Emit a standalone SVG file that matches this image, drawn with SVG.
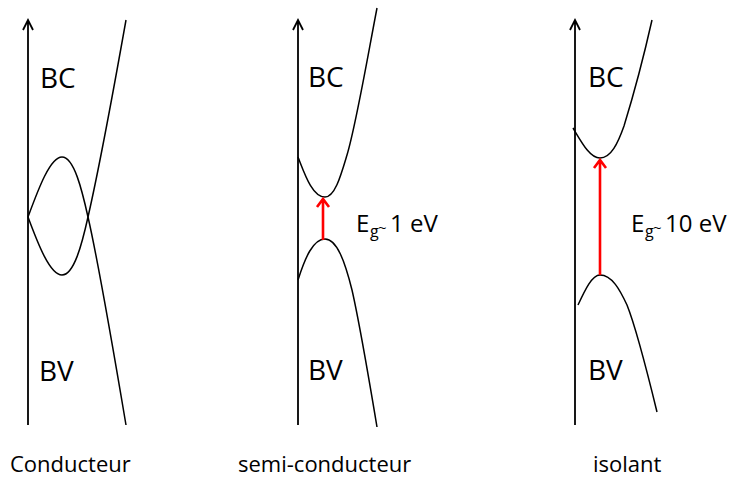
<svg xmlns="http://www.w3.org/2000/svg" width="731" height="477" viewBox="0 0 731 477">
<style>
.axis{stroke:#000;stroke-width:1.8;fill:none}
.band{stroke:#000;stroke-width:1.5;fill:none}
.gap{stroke:#ff0000;stroke-width:2.6;fill:none}
.lbl{font-family:"Open Sans","Liberation Sans",sans-serif;fill:#000}
.big{font-size:28px}
.cap{font-size:22px}
.eg{font-size:24px}
.sub{font-size:16px}
.tl{font-size:15px}
</style>
<rect width="731" height="477" fill="#fff"/>
<g id="conducteur">
  <path class="axis" d="M28,425 V20 M23,30 L28,20 L33,30"/>
  <path class="band" d="M28,217 C38,190 50,157 62,157 S82,190 88,217 C96,252 110,330 126,425"/>
  <path class="band" d="M28,217 C38,244 50,275 62,275 S82,244 88,217 C96,182 110,110 126,20"/>
  <text class="lbl big" x="40" y="88">BC</text>
  <text class="lbl big" x="39" y="381">BV</text>
  <text class="lbl cap" x="10" y="472">Conducteur</text>
</g>
<g id="semi-conducteur">
  <path class="axis" d="M298,425 V20 M293,30 L298,20 L303,30"/>
  <path class="band" d="M298,157 C304,172 312,197 325,197 C335,197 341,175 347,155 C356,125 367,60 377,8"/>
  <path class="band" d="M298,280 C305,258 313,239 325,239 C337,239 345,262 352,290 C360,325 370,385 377,427"/>
  <path class="gap" d="M323,240 V199 M317,207 L323,199 L329,207"/>
  <text class="lbl big" x="308" y="87">BC</text>
  <text class="lbl big" x="308" y="380">BV</text>
  <text class="lbl eg" x="356" y="232">E</text>
  <text class="lbl sub" x="370" y="237">g</text>
  <text class="lbl tl" x="378" y="233">~</text>
  <text class="lbl eg" x="390" y="232">1 eV</text>
  <text class="lbl cap" x="238" y="472">semi-conducteur</text>
</g>
<g id="isolant">
  <path class="axis" d="M575,425 V20 M570,30 L575,20 L580,30"/>
  <path class="band" d="M573,128 C582,143 590,158 600,158 C611,158 618,143 624,126 C632,100 643,60 652,20"/>
  <path class="band" d="M578,305 C585,290 592,275 600,275 C612,275 620,290 627,305 C637,330 648,375 657,412"/>
  <path class="gap" d="M600,275 V160 M594,168 L600,160 L606,168"/>
  <text class="lbl big" x="588" y="87">BC</text>
  <text class="lbl big" x="588" y="380">BV</text>
  <text class="lbl eg" x="631" y="232">E</text>
  <text class="lbl sub" x="645" y="237">g</text>
  <text class="lbl tl" x="653" y="233">~</text>
  <text class="lbl eg" x="665" y="232">10 eV</text>
  <text class="lbl cap" x="593" y="472">isolant</text>
</g>
</svg>
